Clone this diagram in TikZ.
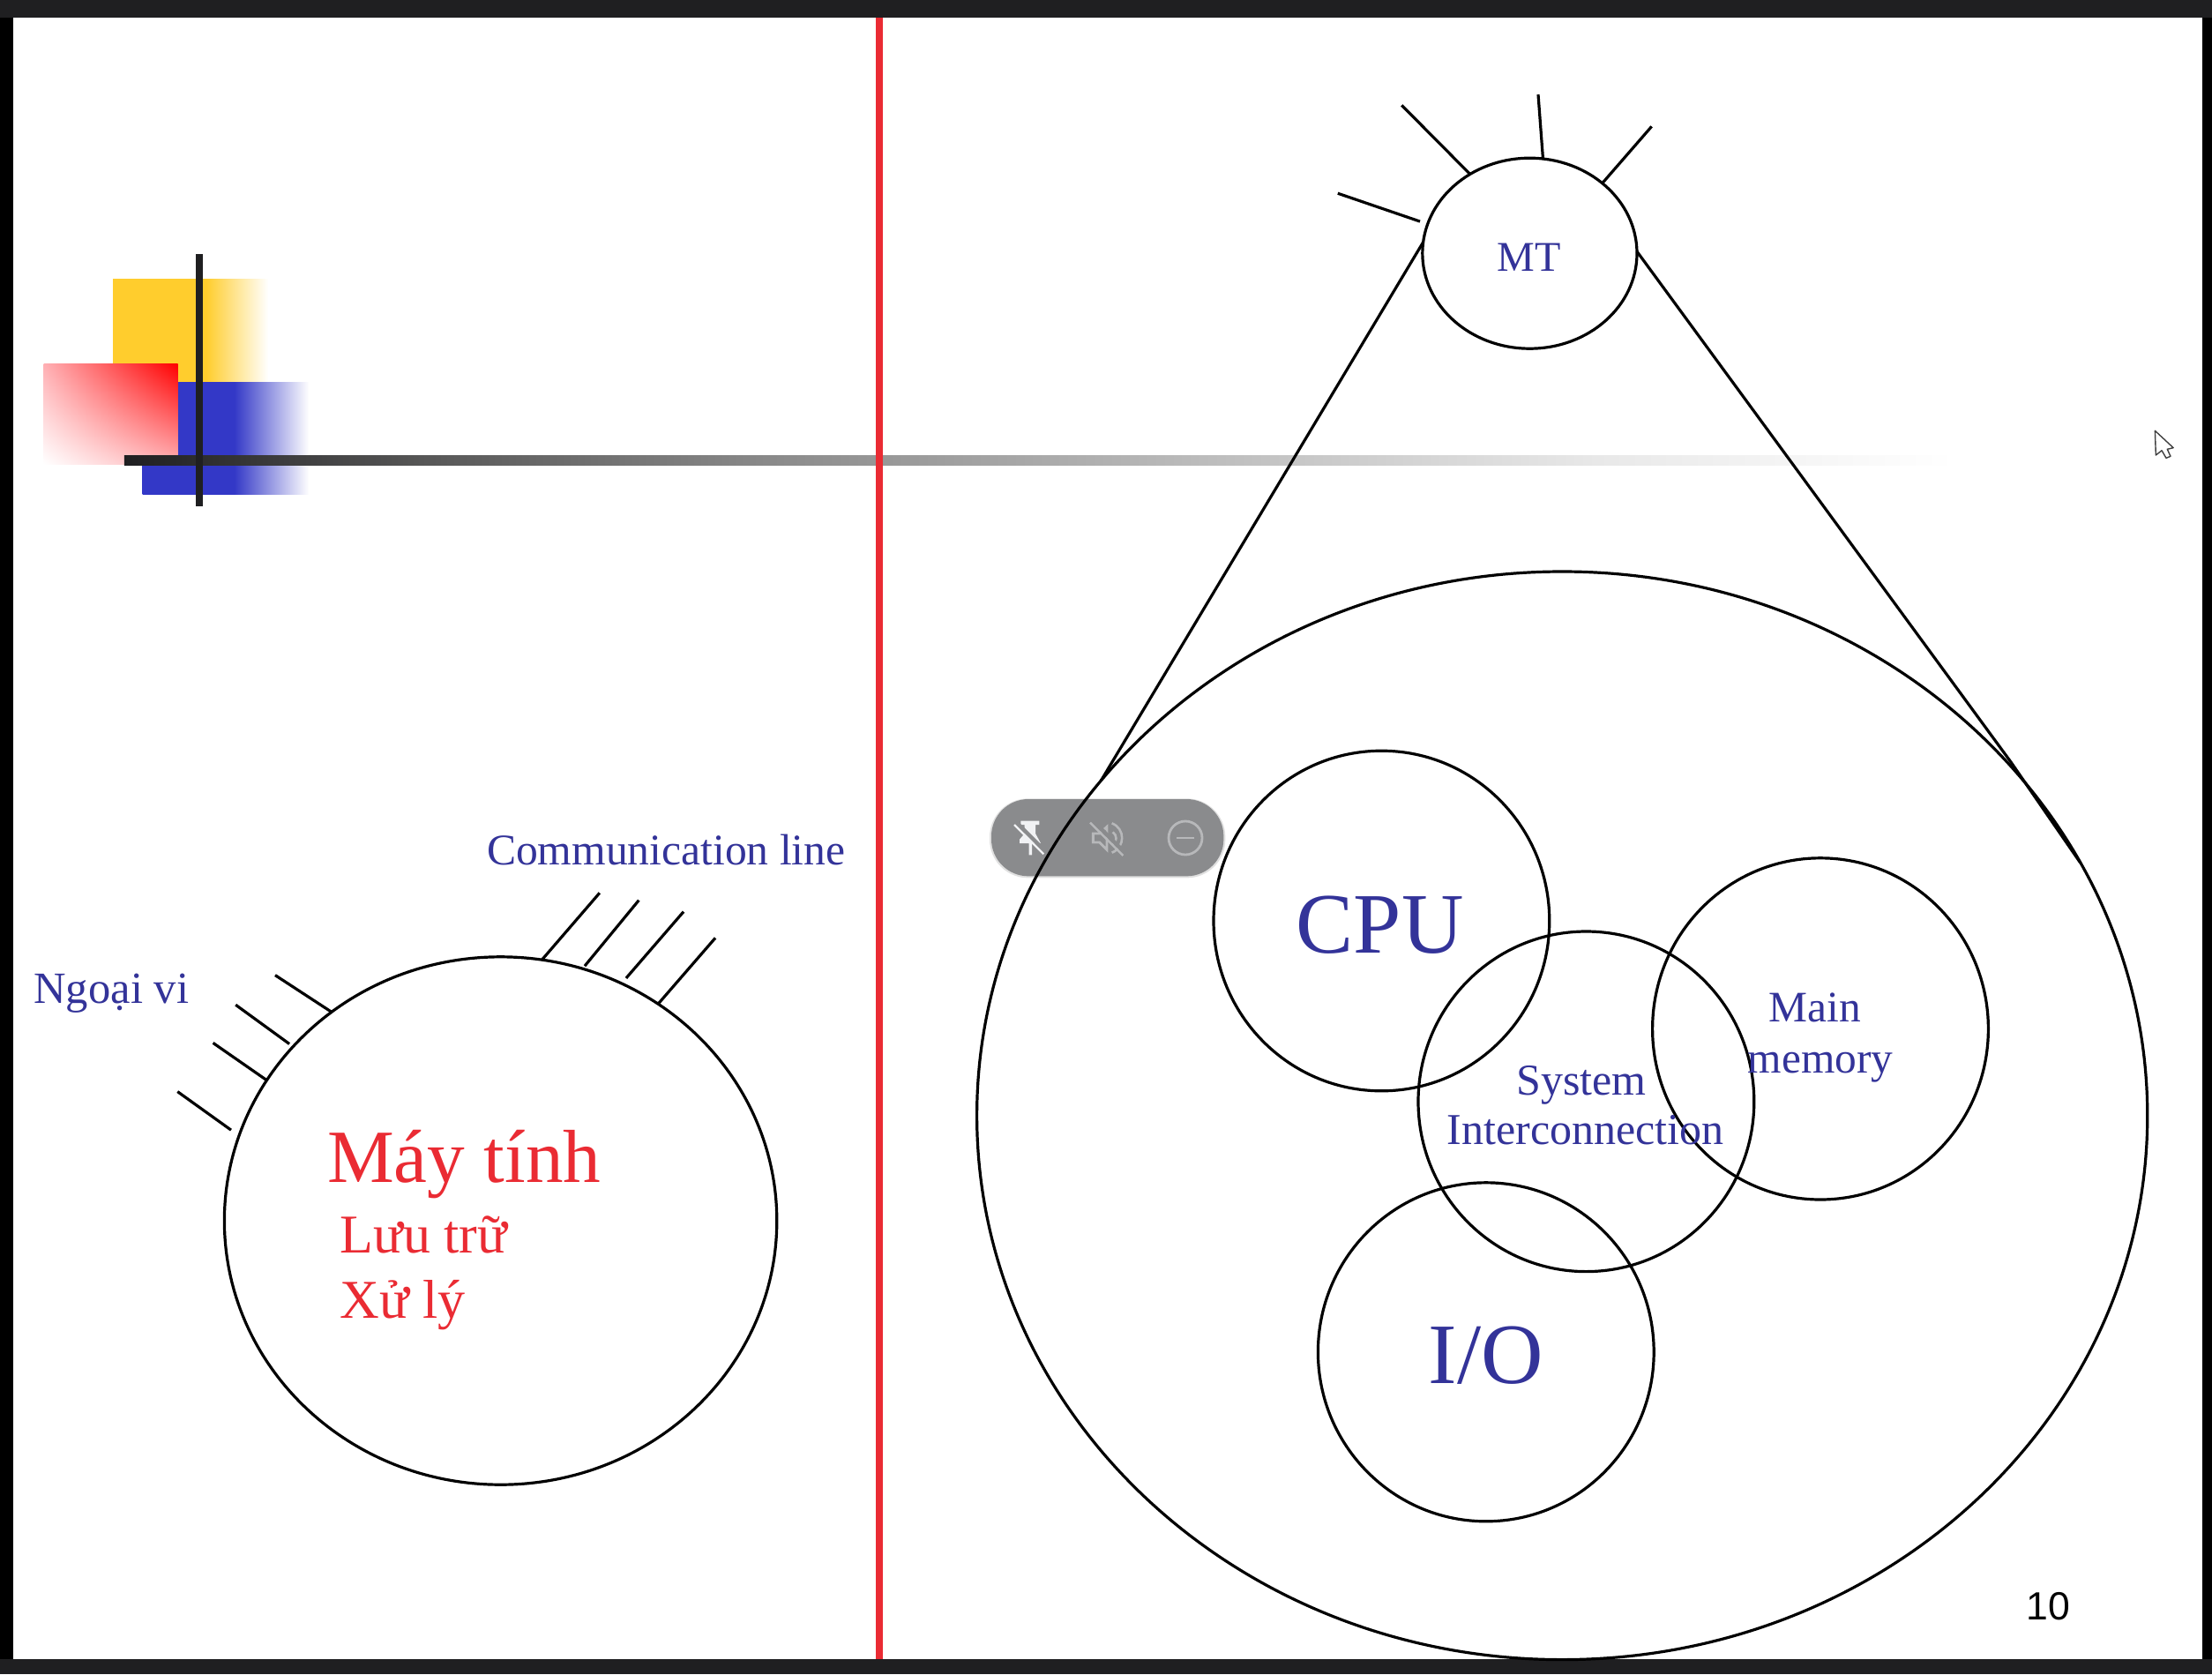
\documentclass[tikz,border=0pt]{standalone}
\usepackage{fontspec}
\setmainfont{Liberation Serif}
\newfontfamily\arialfont{Liberation Sans}
\usetikzlibrary{shapes.geometric,shadings}
\definecolor{slideblue}{HTML}{333399}
\definecolor{slidered}{HTML}{EA2B33}
\definecolor{barblack}{HTML}{1F1F21}
\definecolor{pillgrey}{HTML}{8A8B8D}
\definecolor{pilldim}{HTML}{B7B8BA}
\definecolor{pillwhite}{HTML}{F1F2F4}
\definecolor{logoyellow}{HTML}{FFCD2D}
\definecolor{logoblue}{HTML}{3338C7}
\definecolor{logopink}{HTML}{FFB0B4}
\definecolor{bar90}{gray}{0.353}
\definecolor{bar142}{gray}{0.557}
\definecolor{bar200}{gray}{0.784}
\definecolor{bar232}{gray}{0.91}
\pgfdeclarehorizontalshading{yellowfade}{100bp}{color(0bp)=(logoyellow); color(55bp)=(logoyellow); color(75bp)=(white); color(100bp)=(white)}
\pgfdeclarehorizontalshading{bluefade}{100bp}{color(0bp)=(logoblue); color(52.5bp)=(logoblue); color(75bp)=(white); color(100bp)=(white)}
\pgfdeclarehorizontalshading{barfade}{100bp}{color(0bp)=(barblack); color(25bp)=(barblack); color(33.3bp)=(bar90); color(42.6bp)=(bar142); color(55.8bp)=(bar200); color(63.3bp)=(bar232); color(72.6bp)=(white); color(100bp)=(white)}
\tikzset{
  ring/.style={draw=black,ellipse,inner sep=0pt,outer sep=0pt,line width=1.6pt},
  wire/.style={draw=black,line width=1.6pt},
  bluetext/.style={text=slideblue,inner sep=0pt,outer sep=0pt},
  redtext/.style={text=slidered,inner sep=0pt,outer sep=0pt,anchor=base west},
}
\begin{document}
\begin{tikzpicture}[x=0.8pt,y=-0.8pt]
\useasboundingbox (0,0) rectangle (1567.5,1186.25);
% frame
\fill[black] (0,0) rectangle (1567.5,1186.25);
\fill[barblack] (0,0) rectangle (1567.5,12.5);
\fill[barblack] (0,1175.5) rectangle (1567.5,1186.25);
\fill[white] (9.4,12.5) rectangle (1560.5,1175.5);
% logo
\shade[shading=yellowfade] (80,198) rectangle (190,271);
\shade[shading=bluefade] (101,271) rectangle (219,350);
\shade[upper right=red,upper left=logopink,lower right=logopink,lower left=white] (31,258) rectangle (126,329);
\shade[shading=barfade] (88,322.5) rectangle (1450,329.5);
\fill[barblack] (139,180) rectangle (144,359);
% red divider
\fill[slidered] (620.5,12.5) rectangle (625.5,1175.5);
% toolbar pill
\begin{scope}[shift={(687.5,550)},x=0.16667pt,y=-0.16667pt]
  \fill[black!12,rounded corners=21.8pt] (66,76) rectangle (868,346);
  \fill[pillgrey,rounded corners=21pt] (72,78) rectangle (862,340);
  \fill[pillwhite] (172,152)--(235,152)--(235,165)--(222,165)--(222,195)--(240,228)--(210,228)--(210,268)--(200,268)--(200,228)--(168,228)--(168,215)--(185,195)--(185,165)--(172,165)--cycle;
  \draw[pillgrey,line width=2.2pt] (158,158)--(258,258);
  \draw[pillwhite,line width=1.2pt] (150,165)--(250,265);
  \draw[pilldim,line width=1.4pt] (418,195)--(440,195)--(465,172)--(465,250)--(440,225)--(418,225)--cycle;
  \draw[pilldim,line width=1.3pt] (485,190) .. controls (500,200) and (500,222) .. (485,232);
  \draw[pilldim,line width=1.3pt] (482,160) .. controls (528,178) and (528,242) .. (482,260);
  \draw[pillgrey,line width=2.2pt] (416,150)--(528,262);
  \draw[pilldim,line width=1.2pt] (408,158)--(520,270);
  \draw[pilldim,line width=1.4pt] (732,210) circle[radius=57];
  \draw[pilldim,line width=1.4pt] (703,210)--(762,210);
\end{scope}
% rings
\node[ring,minimum width=313.2pt,minimum height=299.2pt] (pc) at (354.75,865) {};
\node[ring,minimum width=663.6pt,minimum height=616.8pt] (big) at (1107,790.5) {};
\node[ring,minimum width=121.6pt,minimum height=108pt] (mt) at (1084,179.5) {};
\node[ring,minimum width=190.4pt,minimum height=192.8pt] (cpu) at (979,652.5) {};
\node[ring,minimum width=190.4pt,minimum height=192.8pt] (sys) at (1124,780.5) {};
\node[ring,minimum width=190.4pt,minimum height=193.6pt] (mem) at (1290,729) {};
\node[ring,minimum width=190.4pt,minimum height=192pt] (io) at (1053,958) {};
% free ends
\coordinate (m1) at (993.3,74.6);
\coordinate (m2) at (1090,67);
\coordinate (m3) at (1170.4,89.6);
\coordinate (m4) at (948,137);
\coordinate (c1) at (424.9,632.7);
\coordinate (c2) at (452.7,637.9);
\coordinate (c3) at (484.4,646);
\coordinate (c4) at (506.9,664.6);
\coordinate (n1) at (195,691);
\coordinate (n2) at (167,712);
\coordinate (n3) at (151,739);
\coordinate (n4) at (125.8,773.5);
\coordinate (bend) at (1425,540);
% connectors
\draw[wire] (mt.127.3)--(m1);
\draw[wire] (mt.82.5)--(m2);
\draw[wire] (mt.44.2)--(m3);
\draw[wire,shorten <=4.6pt] (mt.164.5)--(m4);
\draw[wire] (pc.81.2)--(c1);
\draw[wire,shorten <=2pt] (pc.72.5)--(c2);
\draw[wire,shorten <=4pt] (pc.63.1)--(c3);
\draw[wire] (pc.54)--(c4);
\draw[wire] (pc.129.6)--(n1);
\draw[wire,shorten <=2.6pt] (pc.140)--(n2);
\draw[wire] (pc.149.3)--(n3);
\draw[wire,shorten <=5.6pt] (pc.162.1)--(n4);
\draw[wire] (mt.174)--(big.144.7);
\draw[wire] (mt.1)--(bend)--(big.26.6);
% cursor
\draw[black!75,fill=white,line width=0.7pt,line join=round] (1527.1,305.2)--(1527.7,322.5)--(1531.9,319.2)--(1535,324.6)--(1538.1,323.3)--(1535.8,318.3)--(1540.1,317.3)--cycle;
% texts
\node[redtext,font=\fontsize{42.6}{46}\selectfont] (t1) at (232,838) {Máy tính};
\node[redtext,font=\fontsize{31}{34}\selectfont] (t2) at (241,888) {Lưu trữ};
\node[redtext,font=\fontsize{31}{34}\selectfont] (t3) at (241,934) {Xử lý};
\node[bluetext,anchor=base west,font=\fontsize{24.8}{28}\selectfont] (t4) at (345,613) {Communication line};
\node[bluetext,anchor=base west,font=\fontsize{25.3}{28}\selectfont] (t5) at (24,711) {Ngoại vi};
\node[bluetext,anchor=base,font=\fontsize{24}{28}\selectfont] (t6) at (1083.5,192) {MT};
\node[bluetext,anchor=base,font=\fontsize{48.8}{52}\selectfont] (t7) at (978,675) {CPU};
\node[bluetext,anchor=base,font=\fontsize{48.8}{52}\selectfont] (t8) at (1053,980) {I/O};
\node[bluetext,anchor=base,font=\fontsize{25}{28}\selectfont] (t9) at (1120.5,776) {System};
\node[bluetext,anchor=base,font=\fontsize{25}{28}\selectfont] (t10) at (1123.5,811) {Interconnection};
\node[bluetext,anchor=base,font=\fontsize{24.7}{28}\selectfont] (t11) at (1286,724) {Main};
\node[bluetext,anchor=base,font=\fontsize{24.7}{28}\selectfont] (t12) at (1290,760) {memory};
\node[anchor=base,inner sep=0pt,font=\arialfont\fontsize{22.3}{26}\selectfont] (t13) at (1451.5,1148) {10};
\end{tikzpicture}
\end{document}
